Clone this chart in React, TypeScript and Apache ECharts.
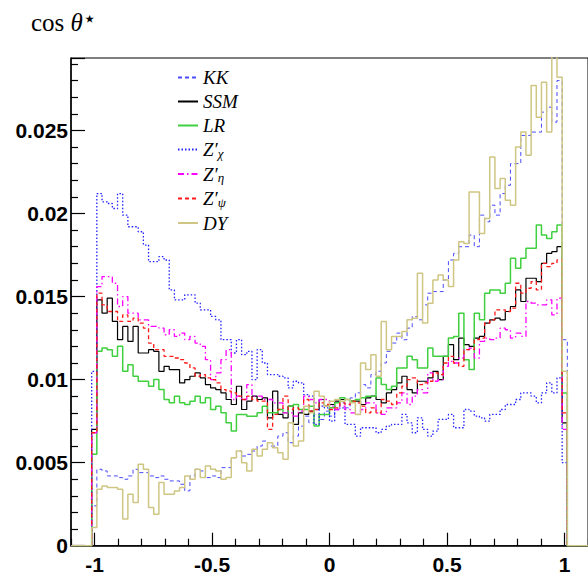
import React, { useEffect, useRef } from "react";
import * as echarts from "echarts";

// Histogram binning (bin edges): first bin starts at EDGE0, width BIN_W
const EDGE0 = -1.012;
const BIN_W = 0.022;

const seriesNames = ["KK", "SSM", "LR", "Zchi", "Zeta", "Zpsi", "DY"];

const kk = [
  0.0024, 0.0046, 0.0045, 0.0042, 0.0042, 0.0041, 0.0040, 0.0042, 0.0046, 0.0044,
  0.0044, 0.0042, 0.0041, 0.0042, 0.0040, 0.0039, 0.0039, 0.0037, 0.0033, 0.0042,
  0.0046, 0.0045, 0.0041, 0.0042, 0.0041, 0.0047, 0.0047, 0.0053, 0.0057, 0.0054,
  0.0055, 0.0057, 0.0060, 0.0063, 0.0060, 0.0060, 0.0066, 0.0068, 0.0062, 0.0066,
  0.0072, 0.0078, 0.0074, 0.0079, 0.0076, 0.0081, 0.0078, 0.0084, 0.0086, 0.0083,
  0.0089, 0.0092, 0.0097, 0.0095, 0.0103, 0.0105, 0.0110, 0.0117, 0.0122, 0.0128,
  0.0124, 0.0131, 0.0138, 0.0136, 0.0145, 0.0152, 0.0153, 0.0153, 0.0160, 0.0172,
  0.0176, 0.0180, 0.0180, 0.0187, 0.0180, 0.0199, 0.0195, 0.0205, 0.0199, 0.0212,
  0.0217, 0.0230, 0.0230, 0.0247, 0.0247, 0.0249, 0.0249, 0.0261, 0.0264, 0.0255,
  0.0280, 0.0124,
];

const ssm = [
  0.0070, 0.0148, 0.0140, 0.0149, 0.0135, 0.0124, 0.0132, 0.0123, 0.0132, 0.0116,
  0.0116, 0.0118, 0.0117, 0.0105, 0.0108, 0.0106, 0.0106, 0.0098, 0.0100, 0.0102,
  0.0104, 0.0101, 0.0097, 0.0095, 0.0094, 0.0092, 0.0088, 0.0085, 0.0096, 0.0082,
  0.0087, 0.0090, 0.0088, 0.0089, 0.0077, 0.0093, 0.0079, 0.0077, 0.0084, 0.0073,
  0.0080, 0.0079, 0.0081, 0.0082, 0.0088, 0.0084, 0.0085, 0.0087, 0.0088, 0.0088,
  0.0087, 0.0087, 0.0085, 0.0089, 0.0090, 0.0088, 0.0086, 0.0092, 0.0094, 0.0098,
  0.0102, 0.0094, 0.0092, 0.0099, 0.0099, 0.0101, 0.0105, 0.0100, 0.0114, 0.0121,
  0.0112, 0.0125, 0.0121, 0.0120, 0.0125, 0.0126, 0.0134, 0.0136, 0.0137, 0.0136,
  0.0141, 0.0144, 0.0154, 0.0147, 0.0161, 0.0161, 0.0159, 0.0170, 0.0176, 0.0177,
  0.0180, 0.0074,
];

const lr = [
  0.0055, 0.0117, 0.0119, 0.0118, 0.0114, 0.0120, 0.0105, 0.0109, 0.0102, 0.0099,
  0.0099, 0.0096, 0.0100, 0.0094, 0.0088, 0.0086, 0.0090, 0.0086, 0.0085, 0.0087,
  0.0090, 0.0086, 0.0089, 0.0082, 0.0084, 0.0080, 0.0074, 0.0069, 0.0079, 0.0079,
  0.0078, 0.0078, 0.0080, 0.0084, 0.0080, 0.0080, 0.0082, 0.0080, 0.0084, 0.0085,
  0.0082, 0.0082, 0.0084, 0.0072, 0.0079, 0.0079, 0.0083, 0.0086, 0.0089, 0.0088,
  0.0087, 0.0088, 0.0089, 0.0090, 0.0090, 0.0101, 0.0097, 0.0094, 0.0096, 0.0107,
  0.0107, 0.0114, 0.0112, 0.0107, 0.0107, 0.0119, 0.0114, 0.0114, 0.0114, 0.0125,
  0.0126, 0.0140, 0.0112, 0.0106, 0.0140, 0.0136, 0.0152, 0.0154, 0.0154, 0.0152,
  0.0158, 0.0173, 0.0167, 0.0173, 0.0179, 0.0179, 0.0193, 0.0187, 0.0185, 0.0189,
  0.0193, 0.0092,
];

const zchi = [
  0.0105, 0.0212, 0.0207, 0.0206, 0.0203, 0.0212, 0.0199, 0.0192, 0.0192, 0.0189,
  0.0181, 0.0171, 0.0171, 0.0174, 0.0172, 0.0154, 0.0148, 0.0148, 0.0151, 0.0151,
  0.0146, 0.0142, 0.0142, 0.0138, 0.0136, 0.0124, 0.0124, 0.0116, 0.0124, 0.0115,
  0.0117, 0.0100, 0.0118, 0.0110, 0.0103, 0.0103, 0.0102, 0.0101, 0.0095, 0.0099,
  0.0098, 0.0091, 0.0090, 0.0073, 0.0084, 0.0083, 0.0075, 0.0082, 0.0083, 0.0073,
  0.0073, 0.0066, 0.0071, 0.0071, 0.0071, 0.0068, 0.0070, 0.0072, 0.0073, 0.0073,
  0.0079, 0.0074, 0.0068, 0.0077, 0.0070, 0.0066, 0.0069, 0.0076, 0.0076, 0.0079,
  0.0071, 0.0071, 0.0082, 0.0081, 0.0078, 0.0077, 0.0075, 0.0079, 0.0079, 0.0082,
  0.0085, 0.0085, 0.0088, 0.0092, 0.0092, 0.0090, 0.0086, 0.0092, 0.0098, 0.0092,
  0.0101, 0.0050,
];

const zeta = [
  0.0068, 0.0156, 0.0162, 0.0162, 0.0158, 0.0144, 0.0150, 0.0140, 0.0140, 0.0136,
  0.0136, 0.0132, 0.0132, 0.0131, 0.0127, 0.0130, 0.0126, 0.0128, 0.0124, 0.0126,
  0.0122, 0.0120, 0.0112, 0.0100, 0.0104, 0.0112, 0.0118, 0.0088, 0.0090, 0.0088,
  0.0097, 0.0090, 0.0090, 0.0088, 0.0088, 0.0086, 0.0086, 0.0080, 0.0080, 0.0078,
  0.0081, 0.0090, 0.0088, 0.0086, 0.0088, 0.0088, 0.0084, 0.0082, 0.0084, 0.0082,
  0.0080, 0.0079, 0.0082, 0.0086, 0.0086, 0.0080, 0.0079, 0.0083, 0.0083, 0.0086,
  0.0092, 0.0085, 0.0090, 0.0094, 0.0092, 0.0104, 0.0099, 0.0100, 0.0108, 0.0111,
  0.0110, 0.0113, 0.0118, 0.0119, 0.0113, 0.0123, 0.0125, 0.0124, 0.0125, 0.0131,
  0.0130, 0.0125, 0.0128, 0.0126, 0.0147, 0.0146, 0.0145, 0.0145, 0.0148, 0.0139,
  0.0149, 0.0070,
];

const zpsi = [
  0.0068, 0.0152, 0.0145, 0.0141, 0.0141, 0.0135, 0.0139, 0.0135, 0.0137, 0.0134,
  0.0131, 0.0122, 0.0118, 0.0118, 0.0114, 0.0114, 0.0113, 0.0112, 0.0110, 0.0107,
  0.0102, 0.0103, 0.0101, 0.0100, 0.0098, 0.0094, 0.0093, 0.0092, 0.0090, 0.0088,
  0.0090, 0.0088, 0.0087, 0.0087, 0.0070, 0.0079, 0.0082, 0.0090, 0.0082, 0.0083,
  0.0082, 0.0088, 0.0081, 0.0082, 0.0086, 0.0085, 0.0082, 0.0083, 0.0086, 0.0085,
  0.0087, 0.0086, 0.0084, 0.0080, 0.0083, 0.0080, 0.0088, 0.0087, 0.0085, 0.0092,
  0.0096, 0.0100, 0.0101, 0.0097, 0.0098, 0.0099, 0.0104, 0.0103, 0.0110, 0.0114,
  0.0110, 0.0108, 0.0118, 0.0118, 0.0124, 0.0125, 0.0134, 0.0136, 0.0142, 0.0142,
  0.0141, 0.0143, 0.0158, 0.0152, 0.0155, 0.0159, 0.0154, 0.0170, 0.0168, 0.0170,
  0.0172, 0.0080,
];

const dy = [
  0.0011, 0.0034, 0.0036, 0.0035, 0.0035, 0.0034, 0.0016, 0.0031, 0.0026, 0.0049,
  0.0046, 0.0023, 0.0019, 0.0038, 0.0031, 0.0031, 0.0033, 0.0035, 0.0042, 0.0040,
  0.0046, 0.0041, 0.0048, 0.0046, 0.0045, 0.0040, 0.0041, 0.0053, 0.0057, 0.0050,
  0.0045, 0.0058, 0.0054, 0.0058, 0.0062, 0.0059, 0.0056, 0.0052, 0.0074, 0.0060,
  0.0063, 0.0084, 0.0080, 0.0093, 0.0090, 0.0084, 0.0087, 0.0088, 0.0087, 0.0088,
  0.0086, 0.0079, 0.0110, 0.0106, 0.0115, 0.0102, 0.0135, 0.0118, 0.0126, 0.0126,
  0.0129, 0.0136, 0.0137, 0.0164, 0.0134, 0.0146, 0.0160, 0.0163, 0.0160, 0.0156,
  0.0172, 0.0183, 0.0182, 0.0213, 0.0213, 0.0188, 0.0197, 0.0234, 0.0215, 0.0221,
  0.0208, 0.0205, 0.0240, 0.0249, 0.0235, 0.0277, 0.0258, 0.0279, 0.0249, 0.0310,
  0.0282, 0.0105,
];

const xLabelTicks = [-1, -0.5, 0, 0.5, 1];
const xMinorTicks = [-1.1, -0.9, -0.8, -0.7, -0.6, -0.4, -0.3, -0.2, -0.1, 0.1, 0.2, 0.3, 0.4, 0.6, 0.7, 0.8, 0.9, 1.1];

const X_MIN = -1.1;
const X_MAX = 1.1;
const Y_MAX = 0.02936;

function toSteps(vals: number[]): number[][] {
  const pts: number[][] = [[X_MIN, 0], [EDGE0, 0]];
  vals.forEach((v, i) => pts.push([EDGE0 + i * BIN_W, v]));
  const end = EDGE0 + vals.length * BIN_W;
  pts.push([end, vals[vals.length - 1]]);
  pts.push([end, 0]);
  pts.push([X_MAX, 0]);
  return pts;
}

const legendText: Record<string, string> = {
  KK: "{m|KK}",
  SSM: "{m|SSM}",
  LR: "{m|LR}",
  Zchi: "{m|Z′}{s|χ}",
  Zeta: "{m|Z′}{s|η}",
  Zpsi: "{m|Z′}{s|ψ}",
  DY: "{m|DY}",
};

export default function App() {
  const ref = useRef<HTMLDivElement>(null);
  useEffect(() => {
    if (!ref.current) return;
    const chart = echarts.init(ref.current, null, { renderer: "svg" });
    const mk = (name: string, data: number[], color: string, width: number, type: any) => ({
      name,
      type: "line",
      step: "end",
      symbol: "none",
      showSymbol: false,
      data: toSteps(data),
      lineStyle: { color, width, type },
      itemStyle: { color },
      xAxisIndex: 0,
      yAxisIndex: 0,
      silent: true,
    });
    const axisFont = { fontFamily: "Liberation Sans, Arial, sans-serif", fontWeight: "bold", fontSize: 21, color: "#000" };
    chart.setOption({
      animation: false,
      backgroundColor: "#fff",
      title: {
        text: "{a|cos }{b|θ}{c|⋆}",
        left: 26,
        top: 2,
        textStyle: {
          fontWeight: "normal",
          rich: {
            a: { fontFamily: "Liberation Serif, serif", fontWeight: "normal", fontSize: 25, color: "#000", lineHeight: 30 },
            b: { fontFamily: "Liberation Serif, serif", fontWeight: "normal", fontStyle: "italic", fontSize: 25, color: "#000", lineHeight: 30 },
            c: { fontFamily: "DejaVu Sans, sans-serif", fontWeight: "normal", fontSize: 22, color: "#000", lineHeight: 20, verticalAlign: "top" },
          },
        },
      },
      legend: {
        orient: "vertical",
        left: 177,
        top: 68,
        padding: 0,
        itemGap: 5,
        itemWidth: 20,
        itemHeight: 10,
        selectedMode: false,
        data: seriesNames,
        formatter: (n: string) => legendText[n],
        itemStyle: { color: "rgba(0,0,0,0)", borderColor: "rgba(0,0,0,0)", borderWidth: 0, opacity: 0 },
        textStyle: {
          rich: {
            m: { fontFamily: "Liberation Serif, serif", fontStyle: "italic", fontSize: 19, lineHeight: 20, color: "#000" },
            s: { fontFamily: "Liberation Serif, serif", fontStyle: "italic", fontSize: 13, lineHeight: 6, verticalAlign: "bottom", color: "#000" },
          },
        },
      },
      grid: { left: 71, top: 58, width: 522, height: 487.7, show: true, borderColor: "#000", borderWidth: 1, containLabel: false },
      xAxis: [
        {
          type: "value",
          min: X_MIN,
          max: X_MAX,
          position: "bottom",
          axisLine: { show: true, onZero: false, lineStyle: { color: "#000", width: 1.5 } },
          axisTick: { show: true, inside: true, length: 13, customValues: xLabelTicks, lineStyle: { color: "#000", width: 1.2 } },
          axisLabel: { show: true, customValues: xLabelTicks, margin: 8, ...axisFont, formatter: (v: number) => String(v) },
          splitLine: { show: false },
        },
        {
          type: "value",
          min: X_MIN,
          max: X_MAX,
          position: "bottom",
          offset: 0,
          axisLine: { show: false, onZero: false },
          axisTick: { show: true, inside: true, length: 7, customValues: xMinorTicks, lineStyle: { color: "#000", width: 1.2 } },
          axisLabel: { show: false },
          splitLine: { show: false },
        },
      ],
      yAxis: {
        type: "value",
        min: 0,
        max: Y_MAX,
        interval: 0.005,
        position: "left",
        axisLine: { show: true, onZero: false, lineStyle: { color: "#000", width: 1.5 } },
        axisTick: { show: true, inside: true, length: 14, lineStyle: { color: "#000", width: 1.2 } },
        minorTick: { show: true, splitNumber: 5, length: 7, lineStyle: { color: "#000", width: 1.2 } },
        axisLabel: { margin: 3, ...axisFont, showMaxLabel: false },
        splitLine: { show: false },
        minorSplitLine: { show: false },
      },
      series: [
        mk("KK", kk, "#4b4bff", 1, [4, 3]),
        mk("SSM", ssm, "#000000", 1.2, "solid"),
        mk("LR", lr, "#3fcf3f", 1.5, "solid"),
        mk("Zchi", zchi, "#2020ff", 1.3, [1.5, 2]),
        mk("Zeta", zeta, "#ff00ff", 1.3, [6, 3, 1.5, 3]),
        mk("Zpsi", zpsi, "#ff1a1a", 1.3, [4, 3]),
        mk("DY", dy, "#cfc683", 1.5, "solid"),
      ],
    });
    return () => chart.dispose();
  }, []);
  return <div ref={ref} style={{ position: "absolute", left: 0, top: 0, width: 588, height: 576 }} />;
}
